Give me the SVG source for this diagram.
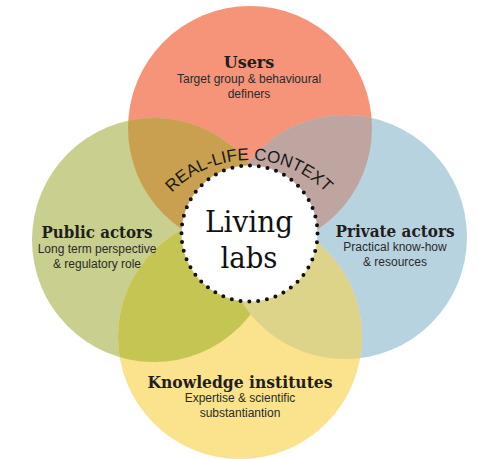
<svg xmlns="http://www.w3.org/2000/svg" xmlns:xlink="http://www.w3.org/1999/xlink" width="477" height="459" viewBox="0 0 477 459">
<style>
.title{font-family:"DejaVu Serif",serif;font-weight:bold;font-size:16px;fill:#1e1e1e;text-anchor:middle}
.sub{font-family:"Liberation Sans",Arial,sans-serif;font-size:12px;fill:#2a2a2a;text-anchor:middle}
.center{font-family:"DejaVu Serif",serif;font-size:30px;fill:#111;text-anchor:middle}
.arc{font-family:"Liberation Sans",Arial,sans-serif;font-size:17px;fill:#1a1a1a}
</style>
<defs>
<clipPath id="cTop"><circle cx="250" cy="128" r="122"/></clipPath>
<clipPath id="cLeft"><circle cx="154" cy="240" r="122"/></clipPath>
<clipPath id="cRight"><circle cx="345" cy="237" r="122"/></clipPath>
<clipPath id="cBottom"><circle cx="240" cy="337" r="122"/></clipPath>
<path id="arcPath" d="M142,267 A107,107 0 0 1 356,267"/>
</defs>
<rect width="477" height="459" fill="#ffffff"/>
<g id="circles">
<circle cx="250" cy="128" r="122" fill="#F59478"/>
<circle cx="154" cy="240" r="122" fill="#C9CF8E"/>
<circle cx="345" cy="237" r="122" fill="#B8D3E0"/>
<circle cx="240" cy="337" r="122" fill="#FBE28C"/>
<circle cx="154" cy="240" r="122" fill="#C9A050" clip-path="url(#cTop)"/>
<circle cx="345" cy="237" r="122" fill="#BFA59F" clip-path="url(#cTop)"/>
<circle cx="154" cy="240" r="122" fill="#C5C553" clip-path="url(#cBottom)"/>
<circle cx="345" cy="237" r="122" fill="#DDD389" clip-path="url(#cBottom)"/>
</g>
<g id="connectors"></g>
<g id="users">
<text class="title" x="249" y="68" font-size="17">Users</text>
<text class="sub" x="249" y="83">Target group &amp; behavioural</text>
<text class="sub" x="249" y="98">definers</text>
</g>
<g id="public-actors">
<text class="title" x="97" y="238" textLength="111" lengthAdjust="spacingAndGlyphs">Public actors</text>
<text class="sub" x="97" y="253">Long term perspective</text>
<text class="sub" x="97" y="268">&amp; regulatory role</text>
</g>
<g id="private-actors">
<text class="title" x="395" y="237" textLength="119" lengthAdjust="spacingAndGlyphs">Private actors</text>
<text class="sub" x="395" y="251">Practical know-how</text>
<text class="sub" x="395" y="266">&amp; resources</text>
</g>
<g id="knowledge-institutes">
<text class="title" x="240" y="388" textLength="185" lengthAdjust="spacingAndGlyphs">Knowledge institutes</text>
<text class="sub" x="240" y="402">Expertise &amp; scientific</text>
<text class="sub" x="240" y="417">substantiantion</text>
</g>
<g id="living-labs">
<circle cx="249.5" cy="233.5" r="68" fill="#ffffff" stroke="#111" stroke-width="4" stroke-linecap="round" stroke-dasharray="0 8.9"/>
<text class="center" x="249" y="232" textLength="88" lengthAdjust="spacingAndGlyphs">Living</text>
<text class="center" x="249" y="268" textLength="57" lengthAdjust="spacingAndGlyphs">labs</text>
<text class="arc"><textPath href="#arcPath" xlink:href="#arcPath" startOffset="50%" text-anchor="middle">REAL-LIFE CONTEXT</textPath></text>
</g>
</svg>
